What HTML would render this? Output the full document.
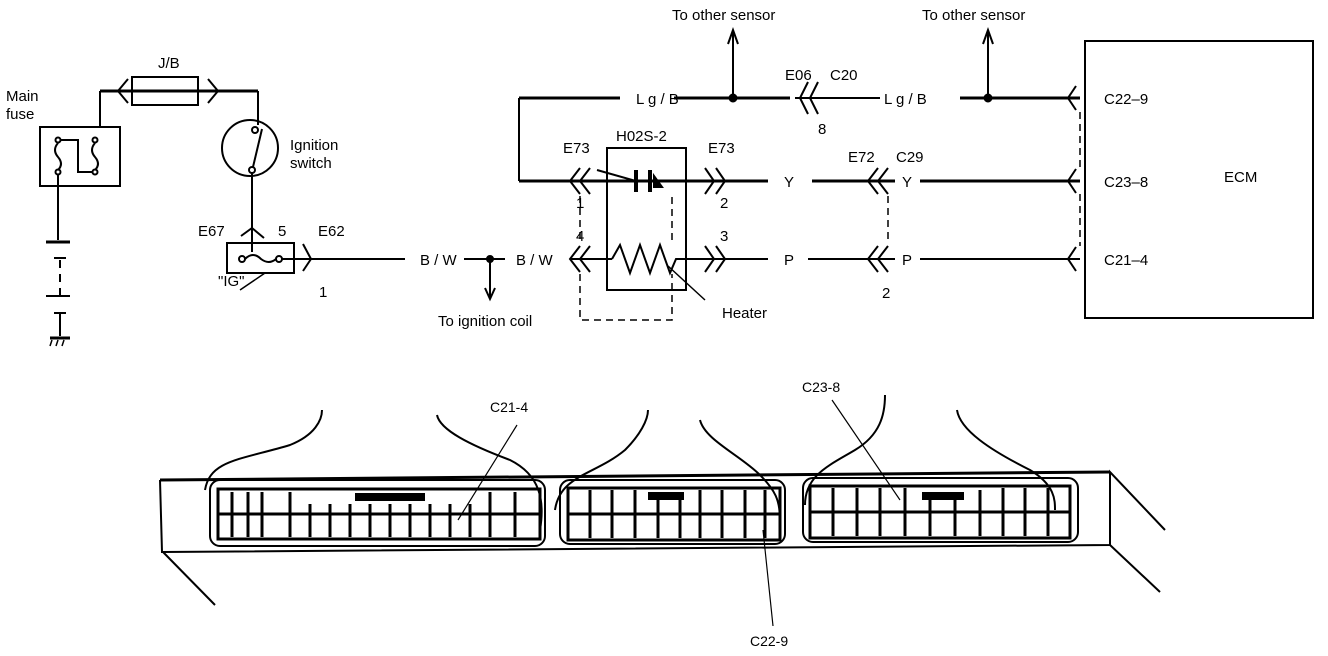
<!DOCTYPE html>
<html><head><meta charset="utf-8"><style>
html,body{margin:0;padding:0;background:#fff;}
svg{display:block;font-family:"Liberation Sans",Arial,sans-serif;}
text{font-size:15px;fill:#000;}
</style></head><body>
<svg width="1328" height="656" viewBox="0 0 1328 656" xmlns="http://www.w3.org/2000/svg">
<g stroke="#000" fill="none" stroke-width="2">
<!-- main fuse -->
<rect x="40" y="127" width="80" height="59"/>
<line x1="100" y1="91" x2="100" y2="127"/>
<line x1="100" y1="91" x2="258" y2="91" stroke-width="3"/>
<rect x="132" y="77" width="66" height="28"/>
<polyline points="128,79 118,91 128,103"/><polyline points="208,79 218,91 208,103"/>
<line x1="258" y1="91" x2="258" y2="125"/>
<circle cx="58" cy="140" r="2.5"/><circle cx="58" cy="172" r="2.5"/>
<circle cx="95" cy="140" r="2.5"/><circle cx="95" cy="172" r="2.5"/>
<path d="M58,143 q-6,7 0,14 q6,7 0,13"/><path d="M95,143 q-6,7 0,14 q6,7 0,13"/>
<polyline points="60,140 78,140 78,172 93,172"/>
<line x1="58" y1="175" x2="58" y2="240"/>
<!-- battery -->
<line x1="46" y1="242" x2="70" y2="242" stroke-width="3"/>
<line x1="54" y1="258" x2="66" y2="258"/>
<line x1="60" y1="260" x2="60" y2="300" stroke-dasharray="8,6"/>
<line x1="46" y1="296" x2="70" y2="296"/>
<line x1="54" y1="313" x2="66" y2="313"/>
<line x1="60" y1="313" x2="60" y2="336"/>
<line x1="50" y1="338" x2="70" y2="338" stroke-width="3"/>
<line x1="52" y1="340" x2="50" y2="346" stroke-width="1.5"/><line x1="58" y1="340" x2="56" y2="346" stroke-width="1.5"/><line x1="64" y1="340" x2="62" y2="346" stroke-width="1.5"/>
<!-- ignition switch -->
<circle cx="250" cy="148" r="28"/>
<circle cx="255" cy="130" r="3"/><circle cx="252" cy="170" r="3"/>
<line x1="253" y1="167" x2="262" y2="129"/>
<line x1="252" y1="173" x2="252" y2="252"/>
<rect x="227" y="243" width="67" height="30"/>
<polyline points="241,236 252,228 264,238"/>
<circle cx="242" cy="259" r="3"/><circle cx="279" cy="259" r="3"/>
<path d="M245,259 q8,-8 16,0 q8,6 15,0"/>
<polyline points="303,244 311,259 303,271"/>
<line x1="282" y1="259" x2="405" y2="259"/>
<line x1="265" y1="273" x2="240" y2="290" stroke-width="1.5"/>
<line x1="464" y1="259" x2="505" y2="259"/>
<circle cx="490" cy="259" r="3" fill="#000"/>
<line x1="490" y1="259" x2="490" y2="298"/>
<polyline points="485,288 490,299 495,288"/>
<!-- sensor -->
<line x1="519" y1="98" x2="620" y2="98" stroke-width="3"/>
<line x1="519" y1="98" x2="519" y2="181"/>
<line x1="519" y1="181" x2="768" y2="181" stroke-width="3"/>
<line x1="674" y1="98" x2="790" y2="98" stroke-width="3"/>
<line x1="795" y1="98" x2="880" y2="98"/>
<line x1="960" y1="98" x2="1080" y2="98" stroke-width="3"/>
<circle cx="733" cy="98" r="3.5" fill="#000"/><circle cx="988" cy="98" r="3.5" fill="#000"/>
<line x1="733" y1="98" x2="733" y2="32"/><polyline points="728,44 733,30 738,44"/>
<line x1="988" y1="98" x2="988" y2="32"/><polyline points="983,44 988,30 993,44"/>
<polyline points="808,82 800,98 808,114"/><polyline points="818,82 810,98 818,114"/>
<rect x="607" y="148" width="79" height="142"/>
<line x1="636" y1="170" x2="636" y2="192" stroke-width="4"/>
<line x1="650" y1="170" x2="650" y2="192" stroke-width="4"/>
<line x1="597" y1="170" x2="636" y2="181"/>
<polygon points="654,176 654,187 662,187" fill="#000"/>
<line x1="812" y1="181" x2="895" y2="181" stroke-width="3"/>
<line x1="920" y1="181" x2="1080" y2="181" stroke-width="3"/>
<line x1="570" y1="259" x2="612" y2="259"/>
<polyline points="612,259 620,245 630,273 640,245 650,273 660,245 670,273 676,259 768,259"/>
<line x1="808" y1="259" x2="895" y2="259"/>
<line x1="920" y1="259" x2="1080" y2="259"/>
<line x1="668" y1="266" x2="705" y2="300" stroke-width="1.5"/>
<!-- connector brackets -->
<polyline points="580,168 570,181 580,194"/><polyline points="590,168 580,181 590,194"/>
<polyline points="580,246 570,259 580,272"/><polyline points="590,246 580,259 590,272"/>
<polyline points="705,168 714,181 705,194"/><polyline points="716,168 725,181 716,194"/>
<polyline points="705,246 714,259 705,272"/><polyline points="716,246 725,259 716,272"/>
<polyline points="878,168 868,181 878,194"/><polyline points="888,168 878,181 888,194"/>
<polyline points="878,246 868,259 878,272"/><polyline points="888,246 878,259 888,272"/>
<polyline points="1076,86 1068,98 1076,110"/><polyline points="1076,169 1068,181 1076,193"/><polyline points="1076,247 1068,259 1076,271"/>
<g stroke-dasharray="7,5" stroke-width="1.5">
<polyline points="580,196 580,240"/><polyline points="580,274 580,320 672,320 672,274"/>
<polyline points="672,240 672,196"/>
<polyline points="888,196 888,244"/>
<polyline points="1080,112 1080,168"/><polyline points="1080,194 1080,246"/>
</g>
<rect x="1085" y="41" width="228" height="277"/>
<!-- bottom panel -->
<polyline points="160,480 1110,472" stroke-width="3"/>
<polyline points="160,480 162,552 1110,545 1110,472 1165,530"/>
<line x1="1110" y1="545" x2="1160" y2="592"/>
<line x1="163" y1="552" x2="215" y2="605"/>
<path d="M205,490 C210,460 240,460 290,445 C315,435 322,420 322,410"/>
<path d="M437,415 C440,430 470,445 510,460 C540,475 545,500 540,530"/>
<path d="M555,510 C560,475 595,475 625,450 C640,435 648,420 648,410"/>
<path d="M700,420 C705,440 740,455 760,475 C775,490 780,500 780,520"/>
<path d="M805,505 C805,475 830,465 855,450 C880,435 885,415 885,395"/>
<path d="M957,410 C960,430 990,450 1030,470 C1055,485 1055,500 1055,510"/>
<rect x="210" y="480" width="335" height="66" rx="10"/>
<rect x="560" y="480" width="225" height="64" rx="10"/>
<rect x="803" y="478" width="275" height="64" rx="10"/>
<g stroke-width="3">
<rect x="218" y="489" width="322" height="50"/>
<rect x="568" y="488" width="212" height="52"/>
<rect x="810" y="486" width="260" height="52"/>
<line x1="218" y1="514" x2="540" y2="514"/>
<line x1="568" y1="514" x2="780" y2="514"/>
<line x1="810" y1="512" x2="1070" y2="512"/>
</g>
<path d="M232,492 v45 M248,492 v45 M262,492 v45 M290,492 v45 M310,504 v33 M330,504 v33 M350,504 v33 M370,504 v33 M390,504 v33 M410,504 v33 M430,504 v33 M450,504 v33 M470,504 v33 M490,492 v45 M515,492 v45" stroke-width="3"/>
<path d="M590,490 v48 M612,490 v48 M635,490 v48 M658,500 v38 M680,500 v38 M700,490 v48 M722,490 v48 M745,490 v48 M765,490 v48" stroke-width="3"/>
<path d="M833,488 v48 M857,488 v48 M880,488 v48 M905,488 v48 M930,500 v36 M955,500 v36 M980,490 v46 M1003,488 v48 M1025,488 v48 M1048,488 v48" stroke-width="3"/>
<rect x="355" y="493" width="70" height="8" fill="#000" stroke="none"/>
<rect x="648" y="492" width="36" height="8" fill="#000" stroke="none"/>
<rect x="922" y="492" width="42" height="8" fill="#000" stroke="none"/>
<g stroke-width="1.2">
<line x1="517" y1="425" x2="458" y2="520"/>
<line x1="832" y1="400" x2="900" y2="500"/>
<line x1="763" y1="530" x2="773" y2="626"/>
</g>
</g>
<text x="6" y="101">Main</text><text x="6" y="119">fuse</text>
<text x="158" y="68">J/B</text>
<text x="290" y="150">Ignition</text><text x="290" y="168">switch</text>
<text x="198" y="236">E67</text><text x="278" y="236">5</text><text x="318" y="236">E62</text>
<text x="218" y="286">"IG"</text><text x="319" y="297">1</text>
<text x="420" y="265">B / W</text><text x="516" y="265">B / W</text>
<text x="438" y="326">To ignition coil</text>
<text x="672" y="20">To other sensor</text><text x="922" y="20">To other sensor</text>
<text x="636" y="104">L g / B</text><text x="884" y="104">L g / B</text>
<text x="785" y="80">E06</text><text x="830" y="80">C20</text><text x="818" y="134">8</text>
<text x="616" y="141">H02S-2</text>
<text x="563" y="153">E73</text><text x="708" y="153">E73</text>
<text x="848" y="162">E72</text><text x="896" y="162">C29</text>
<text x="576" y="208">1</text><text x="720" y="208">2</text><text x="576" y="241">4</text><text x="720" y="241">3</text>
<text x="784" y="187">Y</text><text x="902" y="187">Y</text>
<text x="784" y="265">P</text><text x="902" y="265">P</text>
<text x="882" y="298">2</text>
<text x="722" y="318">Heater</text>
<text x="1104" y="104">C22–9</text><text x="1104" y="187">C23–8</text><text x="1104" y="265">C21–4</text>
<text x="1224" y="182">ECM</text>
<text x="490" y="412" style="font-size:14px">C21-4</text>
<text x="802" y="392" style="font-size:14px">C23-8</text>
<text x="750" y="646" style="font-size:14px">C22-9</text>
</svg>
</body></html>
